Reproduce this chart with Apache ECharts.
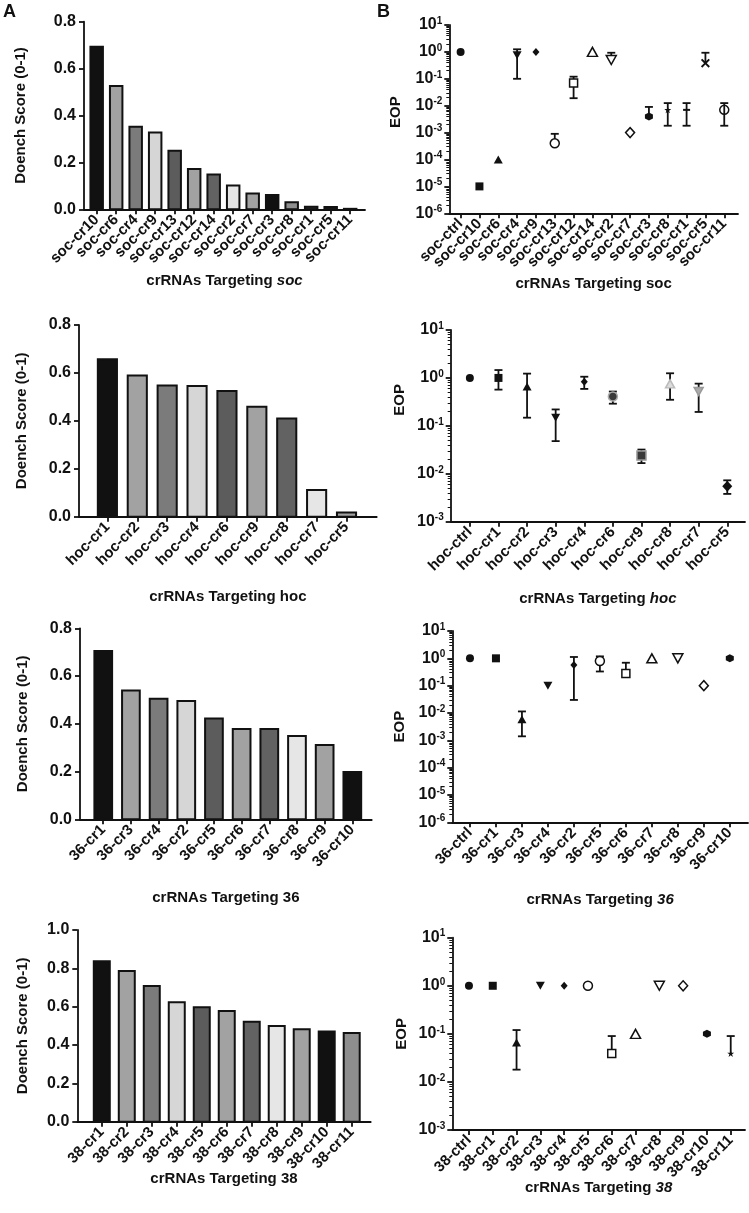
<!DOCTYPE html>
<html><head><meta charset="utf-8">
<script src="https://cdn.jsdelivr.net/npm/echarts@6/dist/echarts.min.js"></script>
<style>html,body{margin:0;padding:0;background:#fff}#c{width:749px;height:1213px}</style>
</head><body><div id="c"></div>
<script>
// ---------------- DATA ----------------
const A1_cats = ['soc-cr10','soc-cr6','soc-cr4','soc-cr9','soc-cr13','soc-cr12','soc-cr14','soc-cr2','soc-cr7','soc-cr3','soc-cr8','soc-cr1','soc-cr5','soc-cr11'];
const A1_scores = [0.693,0.526,0.352,0.327,0.250,0.172,0.148,0.101,0.067,0.061,0.030,0.011,0.010,0.002];

const A2_cats = ['hoc-cr1','hoc-cr2','hoc-cr3','hoc-cr4','hoc-cr6','hoc-cr9','hoc-cr8','hoc-cr7','hoc-cr5'];
const A2_scores = [0.657,0.589,0.548,0.545,0.525,0.459,0.410,0.111,0.018];

const A3_cats = ['36-cr1','36-cr3','36-cr4','36-cr2','36-cr5','36-cr6','36-cr7','36-cr8','36-cr9','36-cr10'];
const A3_scores = [0.705,0.540,0.505,0.496,0.422,0.378,0.378,0.349,0.311,0.198];

const A4_cats = ['38-cr1','38-cr2','38-cr3','38-cr4','38-cr5','38-cr6','38-cr7','38-cr8','38-cr9','38-cr10','38-cr11'];
const A4_scores = [0.837,0.786,0.708,0.623,0.597,0.577,0.522,0.499,0.482,0.471,0.463];

const B1_cats = ['soc-ctrl','soc-cr10','soc-cr6','soc-cr4','soc-cr9','soc-cr13','soc-cr12','soc-cr14','soc-cr2','soc-cr7','soc-cr3','soc-cr8','soc-cr1','soc-cr5','soc-cr11'];
const B1_eop  = [1, 1e-5, 1e-4, 0.75, 1, 4e-4, 0.07, 1, 0.5, 1e-3, 4e-3, 7e-3, 7e-3, 0.38, 7e-3];
const B1_low  = [null,null,null,0.1,null,null,0.019,null,null,null,null,1.8e-3,1.8e-3,null,1.8e-3];
const B1_high = [null,null,null,1.25,null,9e-4,0.12,null,0.93,null,9e-3,0.0125,0.0125,0.93,0.0125];

const B2_cats = ['hoc-ctrl','hoc-cr1','hoc-cr2','hoc-cr3','hoc-cr4','hoc-cr6','hoc-cr9','hoc-cr8','hoc-cr7','hoc-cr5'];
const B2_eop  = [1, 1.0, 0.66, 0.148, 0.835, 0.41, 0.024, 0.75, 0.52, 0.0055];
const B2_low  = [null,0.57,0.148,0.048,0.59,0.29,0.0167,0.35,0.195,0.0038];
const B2_high = [null,1.46,1.23,0.22,1.06,0.52,0.032,1.25,0.76,0.0073];

const B3_cats = ['36-ctrl','36-cr1','36-cr3','36-cr4','36-cr2','36-cr5','36-cr6','36-cr7','36-cr8','36-cr9','36-cr10'];
const B3_eop  = [1, 1, 5.9e-3, 0.1, 0.57, 0.8, 0.28, 1, 1, 0.1, 1];
const B3_low  = [null,null,1.4e-3,null,0.03,0.33,null,null,null,null,null];
const B3_high = [null,null,0.0114,null,1.12,1.18,0.69,null,null,null,null];

const B4_cats = ['38-ctrl','38-cr1','38-cr2','38-cr3','38-cr4','38-cr5','38-cr6','38-cr7','38-cr8','38-cr9','38-cr10','38-cr11'];
const B4_eop  = [1, 1, 0.066, 1, 1, 1, 0.039, 0.1, 1, 1, 0.1, 0.039];
const B4_low  = [null,null,0.018,null,null,null,null,null,null,null,null,null];
const B4_high = [null,null,0.12,null,null,null,0.09,null,null,null,null,0.09];

// axis ranges / tick settings
const A_yTicks = {A1:[0,0.8], A2:[0,0.8], A3:[0,0.8], A4:[0,1.0]};
const B_yRange = {B1:[1e-6,10], B2:[1e-3,10], B3:[1e-6,10], B4:[1e-3,10]};

// ---------------- STYLE / LAYOUT ----------------
const FONT = '"Liberation Sans", Arial, sans-serif';
const INK = '#111';
const BAR_PALETTE = ['#111111','#a2a2a2','#7b7b7b','#d6d6d6','#5c5c5c','#a2a2a2','#626262','#e6e6e6','#a2a2a2','#111111','#8e8e8e','#3a3a3a','#2a2a2a','#111111'];

const L = {
  A1:{l:84,  r:365, t:21.7, b:209.3, padL:.15, padR:.26, xGap:64, yGap:56, yShift:0},
  B1:{l:449.3,r:738, t:25,  b:213.3, padL:.10, padR:.23, xGap:63, yGap:46, yShift:14},
  A2:{l:79,  r:376.7,t:325, b:516.7, padL:.45, padR:.51, xGap:73, yGap:50, yShift:0},
  B2:{l:450.7,r:745, t:330, b:521.7, padL:.17, padR:.12, xGap:70, yGap:43, yShift:52},
  A3:{l:80,  r:371.7,t:628.3,b:819.3,padL:.34, padR:.20, xGap:71, yGap:50, yShift:0},
  B3:{l:452.3,r:748, t:631, b:822.3, padL:.18, padR:.20, xGap:70, yGap:45, yShift:0},
  A4:{l:77.3,r:370.7,t:930, b:1121.7,padL:.48, padR:.26, xGap:50, yGap:47, yShift:0},
  B4:{l:452.3,r:745, t:937.7,b:1130, padL:.20, padR:.10, xGap:50, yGap:43, yShift:0}
};

const SYM = {
  circle:  {symbol:'circle', size:8, fill:INK},
  square:  {symbol:'rect', size:8, fill:INK},
  tri:     {symbol:'triangle', size:[9,8], fill:INK},
  triDown: {symbol:'path://M0,0L10,0L5,9Z', size:[9,8], fill:INK},
  diamond: {symbol:'diamond', size:[7,8], fill:INK},
  bigDiamond: {symbol:'diamond', size:[10,11], fill:INK},
  oCircle: {symbol:'circle', size:9, fill:'#fff', stroke:INK},
  oSquare: {symbol:'rect', size:8, fill:'#fff', stroke:INK},
  oTri:    {symbol:'triangle', size:[10,9], fill:'#fff', stroke:INK},
  oTriDown:{symbol:'path://M0,0L10,0L5,9Z', size:[10,9], fill:'#fff', stroke:INK},
  oDiamond:{symbol:'diamond', size:[9,10], fill:'#fff', stroke:INK},
  hex:     {symbol:'path://M5,0L9.33,2.5L9.33,7.5L5,10L0.67,7.5L0.67,2.5Z', size:8, fill:INK},
  star:    {symbol:'path://M5,0L6.2,3.6L10,3.6L6.9,5.8L8.1,9.5L5,7.2L1.9,9.5L3.1,5.8L0,3.6L3.8,3.6Z', size:7, fill:INK},
  plus:    {symbol:'path://M0,4L10,4L10,6L0,6Z', size:[7,2], fill:INK},
  cross:   {symbol:'path://M0,1.5L1.5,0L5,3.5L8.5,0L10,1.5L6.5,5L10,8.5L8.5,10L5,6.5L1.5,10L0,8.5L3.5,5Z', size:9, fill:INK},
  oCirclePlus: {symbol:'circle', size:9, fill:'rgba(255,255,255,0)', stroke:INK},
  gCircle: {symbol:'circle', size:9, fill:'#3a3a3a', stroke:'#aaa'},
  gSquare: {symbol:'rect', size:9, fill:'#3a3a3a', stroke:'#999'},
  lTri:    {symbol:'triangle', size:[9,8], fill:'#ddd', stroke:'#bbb'},
  lTriDown:{symbol:'path://M0,0L10,0L5,9Z', size:[9,8], fill:'#aaa', stroke:'#999'}
};
const B_markers = {
  B1:['circle','square','tri','triDown','diamond','oCircle','oSquare','oTri','oTriDown','oDiamond','hex','star','plus','cross','oCirclePlus'],
  B2:['circle','square','tri','triDown','diamond','gCircle','gSquare','lTri','lTriDown','bigDiamond'],
  B3:['circle','square','tri','triDown','diamond','oCircle','oSquare','oTri','oTriDown','oDiamond','hex'],
  B4:['circle','square','tri','triDown','diamond','oCircle','oSquare','oTri','oTriDown','oDiamond','hex','star']
};

const xNames = {
  A1:'crRNAs Targeting {i|soc}', B1:'crRNAs Targeting soc',
  A2:'crRNAs Targeting hoc',     B2:'crRNAs Targeting {i|hoc}',
  A3:'crRNAs Targeting 36',      B3:'crRNAs Targeting {i|36}',
  A4:'crRNAs Targeting 38',      B4:'crRNAs Targeting {i|38}'
};

// ---------------- BUILD ----------------
const grids = [], xAxes = [], yAxes = [], series = [];
const TXT = {fontFamily:FONT, fontWeight:'bold', color:INK};

function addPanel(key, cats, kind) {
  const k = grids.length, g = L[key], n = cats.length;
  grids.push({left:g.l, top:g.t, width:g.r-g.l, height:g.b-g.t, containLabel:false, outerBoundsMode:'none'});
  const idx = cats.map((c,i)=>i);
  const xmin = -0.5-g.padL, xmax = n-0.5+g.padR;
  xAxes.push({
    gridIndex:k, type:'value', min:xmin, max:xmax,
    axisLine:{show:true, onZero:false, lineStyle:{color:INK, width:1.8}},
    axisTick:{show:true, customValues:idx, length:5, lineStyle:{color:INK, width:1.8}},
    // blank end labels absorb the min/max overlap check so every category label stays visible
    axisLabel:{customValues:[xmin, ...idx, xmax], rotate:45, margin:8, fontSize:15, ...TXT,
      hideOverlap:false,
      formatter:v=>{ const r = Math.round(v); return (Math.abs(v-r) < 1e-6 && cats[r] != null) ? cats[r] : ' '; }},
    splitLine:{show:false},
    name:xNames[key], nameLocation:'middle', nameGap:g.xGap, nameMoveOverlap:false,
    nameTextStyle:{fontSize:15, ...TXT, rich:{i:{fontSize:15, fontStyle:'italic', fontWeight:'bold', fontFamily:FONT, color:INK}}}
  });
  const yNameStyle = {fontSize:15, ...TXT, padding:[0,0,0,g.yShift]};
  if (kind === 'A') {
    const r = A_yTicks[key];
    yAxes.push({
      gridIndex:k, type:'value', min:r[0], max:r[1], interval:0.2,
      axisLine:{show:true, onZero:false, lineStyle:{color:INK, width:1.8}},
      axisTick:{show:true, length:5, lineStyle:{color:INK, width:1.8}},
      axisLabel:{fontSize:16, margin:8, ...TXT, formatter:v=>v.toFixed(1)},
      splitLine:{show:false},
      name:'Doench Score (0-1)', nameLocation:'middle', nameGap:g.yGap, nameMoveOverlap:false,
      nameTextStyle:yNameStyle
    });
  } else {
    const r = B_yRange[key];
    yAxes.push({
      gridIndex:k, type:'log', logBase:10, min:r[0], max:r[1],
      splitNumber:Math.round(Math.log10(r[1]/r[0])),
      axisLine:{show:true, onZero:false, lineStyle:{color:INK, width:1.8}},
      axisTick:{show:true, length:5, lineStyle:{color:INK, width:1.8}},
      minorTick:{show:true, splitNumber:9, length:3, lineStyle:{color:INK, width:1}},
      axisLabel:{margin:7, ...TXT,
        formatter:v=>'{b|10}{s|'+Math.round(Math.log10(v))+'}',
        rich:{b:{fontSize:16, ...TXT, lineHeight:18}, s:{fontSize:10, ...TXT, verticalAlign:'top', lineHeight:18, padding:[0,0,8,0]}}},
      splitLine:{show:false}, minorSplitLine:{show:false},
      name:'EOP', nameLocation:'middle', nameGap:g.yGap, nameMoveOverlap:false,
      nameTextStyle:yNameStyle
    });
  }
  return {k, g, n};
}

function addBars(key, cats, vals) {
  const {k} = addPanel(key, cats, 'A');
  series.push({
    type:'custom', xAxisIndex:k, yAxisIndex:k,
    data: vals.map((v,i)=>[i, v]),
    renderItem:(params, api)=>{
      const i = api.value(0), v = api.value(1);
      const p0 = api.coord([i, 0]), p1 = api.coord([i, v]);
      const w = api.size([0.64, 0])[0];
      return {type:'rect', shape:{x:p1[0]-w/2, y:p1[1], width:w, height:Math.max(p0[1]-p1[1],0.5)},
        style:{fill:BAR_PALETTE[i % BAR_PALETTE.length], stroke:INK, lineWidth:2}};
    }
  });
}

function addDots(key, cats, eop, low, high) {
  const {k} = addPanel(key, cats, 'B');
  const rows = eop.map((m,i)=>[i, m, low[i]==null?m:low[i], high[i]==null?m:high[i], low[i]==null?0:1, high[i]==null?0:1]);
  series.push({
    type:'custom', xAxisIndex:k, yAxisIndex:k, z:2, data:rows,
    renderItem:(params, api)=>{
      const i = api.value(0), lo = api.value(2), hi = api.value(3), hasLo = api.value(4), hasHi = api.value(5);
      if (!hasLo && !hasHi) return {type:'group', children:[]};
      const pl = api.coord([i, lo]), ph = api.coord([i, hi]);
      const cw = 4, st = {stroke:INK, lineWidth:1.8};
      const ch = [{type:'line', shape:{x1:pl[0], y1:pl[1], x2:ph[0], y2:ph[1]}, style:st}];
      if (hasLo) ch.push({type:'line', shape:{x1:pl[0]-cw, y1:pl[1], x2:pl[0]+cw, y2:pl[1]}, style:st});
      if (hasHi) ch.push({type:'line', shape:{x1:ph[0]-cw, y1:ph[1], x2:ph[0]+cw, y2:ph[1]}, style:st});
      return {type:'group', children:ch};
    }
  });
  series.push({
    type:'scatter', xAxisIndex:k, yAxisIndex:k, z:3,
    data: eop.map((m,i)=>{
      const s = SYM[B_markers[key][i]];
      return {value:[i,m], symbol:s.symbol, symbolSize:s.size,
        itemStyle:{color:s.fill, borderColor:s.stroke||s.fill, borderWidth:s.stroke?1.5:0, opacity:1}};
    })
  });
}

addBars('A1', A1_cats, A1_scores);
addDots('B1', B1_cats, B1_eop, B1_low, B1_high);
addBars('A2', A2_cats, A2_scores);
addDots('B2', B2_cats, B2_eop, B2_low, B2_high);
addBars('A3', A3_cats, A3_scores);
addDots('B3', B3_cats, B3_eop, B3_low, B3_high);
addBars('A4', A4_cats, A4_scores);
addDots('B4', B4_cats, B4_eop, B4_low, B4_high);

const chart = echarts.init(document.getElementById('c'), null, {renderer:'canvas'});
chart.setOption({
  animation:false, backgroundColor:'#fff',
  title:[
    {text:'A', left:3, top:3, padding:0, textStyle:{fontSize:18, ...TXT}},
    {text:'B', left:377, top:3, padding:0, textStyle:{fontSize:18, ...TXT}}
  ],
  grid:grids, xAxis:xAxes, yAxis:yAxes, series:series
});
</script></body></html>
